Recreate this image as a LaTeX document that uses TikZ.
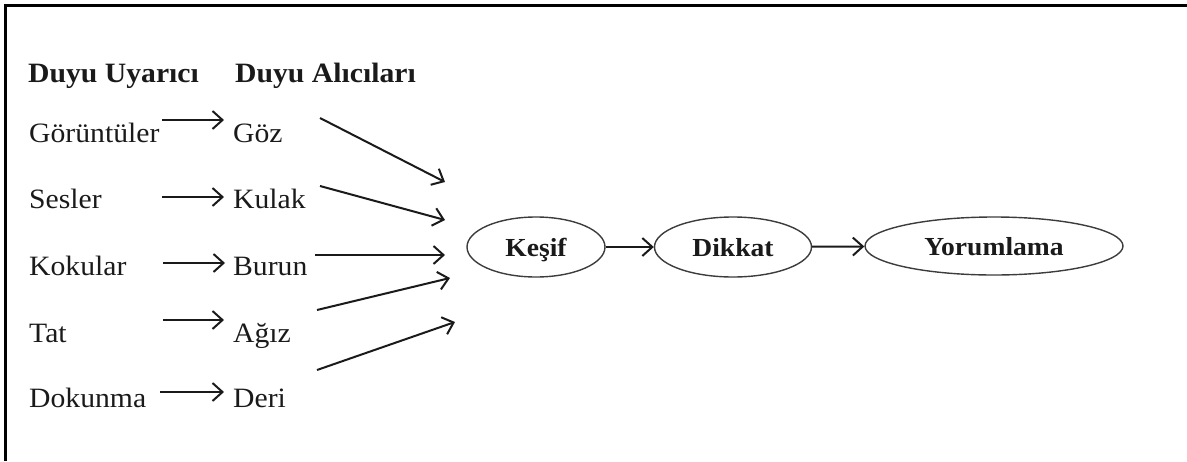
\documentclass[tikz,border=0pt]{standalone}
\usepackage{fontspec}
\setmainfont{Liberation Serif}[FakeStretch=1.06]
\usetikzlibrary{arrows.meta,shapes.geometric,calc}
\definecolor{ink}{HTML}{1A1A1A}
\tikzset{
  lbl/.style={anchor=base west,inner sep=0pt,text=ink,font=\fontsize{28}{30}\selectfont},
  hdr/.style={lbl,font=\fontsize{28}{30}\selectfont\bfseries},
  arr/.style={draw=ink,line width=2pt,-{Straight Barb[length=10pt,width=18pt,line width=2pt]}},
  oval/.style={ellipse,draw=ink!85,line width=1.4pt,inner sep=0pt,text=ink,font=\fontsize{26}{28}\selectfont\bfseries,minimum height=60pt,text height=22pt,text depth=4pt},
}
\begin{document}
\begin{tikzpicture}[x=1pt,y=-1pt]
\useasboundingbox (0,0) rectangle (1187,461);
\draw[line width=3pt,black] (5.5,461) -- (5.5,5.5) -- (1187,5.5);
% headers
\node[hdr] (h1) at (28,82) {Duyu Uyarıcı};
\node[hdr] (h2) at (235,82) {Duyu Alıcıları};
% stimuli
\node[lbl] (s1) at (29,142) {Görüntüler};
\node[lbl] (s2) at (29,208) {Sesler};
\node[lbl] (s3) at (29,275) {Kokular};
\node[lbl] (s4) at (29,342) {Tat};
\node[lbl] (s5) at (29,407) {Dokunma};
% receptors
\node[lbl] (r1) at (233,142) {Göz};
\node[lbl] (r2) at (233,208) {Kulak};
\node[lbl] (r3) at (233,275) {Burun};
\node[lbl] (r4) at (233,342) {Ağız};
\node[lbl] (r5) at (233,407) {Deri};
% stimulus -> receptor arrows
\draw[arr] ($(s1.base -| r1.base west)+(-71,-22)$) -- ($(r1.base west)+(-9,-22)$);
\draw[arr] ($(s2.base -| r2.base west)+(-71,-11)$) -- ($(r2.base west)+(-9,-11)$);
\draw[arr] ($(s3.base -| r3.base west)+(-70,-12)$) -- ($(r3.base west)+(-8,-12)$);
\draw[arr] ($(s4.base -| r4.base west)+(-70,-22)$) -- ($(r4.base west)+(-9,-22)$);
\draw[arr] ($(s5.base -| r5.base west)+(-73,-15)$) -- ($(r5.base west)+(-9,-15)$);
% process ovals
\node[oval,minimum width=138pt] (k) at (536,247) {Keşif};
\node[oval,minimum width=157pt] (d) at (733,247) {Dikkat};
\node[oval,minimum width=258pt,minimum height=58pt] (y) at (994,246) {Yorumlama};
\draw[arr] (k) -- (d);
\draw[arr] (d) -- (y);
% converging arrows (free tips)
\coordinate (t1) at (445,182);
\coordinate (t2) at (445,220);
\coordinate (t3) at (445,255);
\coordinate (t4) at (450,278);
\coordinate (t5) at (455,322);
\draw[arr] ($(r1.base west)+(87,-24)$) -- (t1);
\draw[arr] ($(r2.base west)+(87,-22)$) -- (t2);
\draw[arr] ($(r3.base west)+(82,-20)$) -- (t3);
\draw[arr] ($(r4.base west)+(84,-32)$) -- (t4);
\draw[arr] ($(r5.base west)+(84,-37)$) -- (t5);
\end{tikzpicture}
\end{document}
